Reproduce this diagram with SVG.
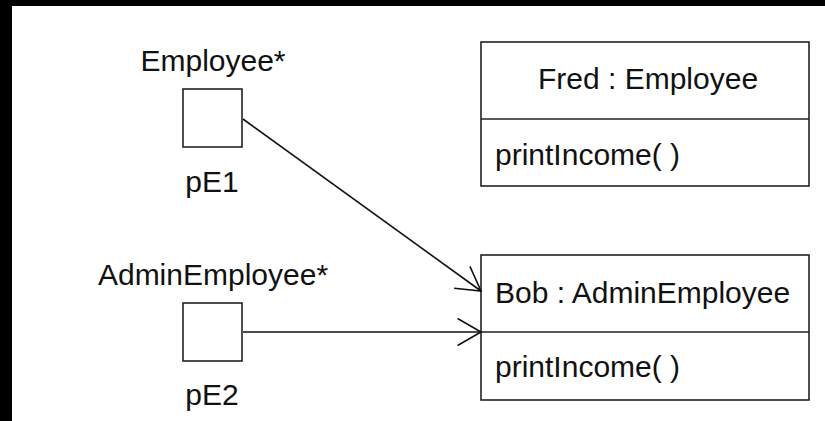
<svg xmlns="http://www.w3.org/2000/svg" width="825" height="421" viewBox="0 0 825 421">
  <style>
    text { font-family: "Liberation Sans", Arial, sans-serif; font-size: 30px; fill: #111; }
    .mid { text-anchor: middle; }
    .box { fill: #fff; stroke: #222; stroke-width: 1.6; }
    .rule { stroke: #222; stroke-width: 1.6; }
    .link { fill: none; stroke: #111; stroke-width: 1.6; }
  </style>
  <defs>
    <marker id="open-arrow" markerUnits="userSpaceOnUse" markerWidth="40" markerHeight="40" refX="28" refY="16" orient="auto">
      <path d="M4.6,2.5 L28,16 L4.6,29.5" fill="none" stroke="#111" stroke-width="1.6"/>
    </marker>
  </defs>

  <!-- frame edges -->
  <rect x="0" y="0" width="825" height="6" fill="#000"/>
  <rect x="0" y="0" width="12" height="421" fill="#000"/>

  <!-- pointer pE1 -->
  <g id="pE1">
    <text class="mid" x="213" y="71">Employee*</text>
    <rect class="box" x="183" y="89" width="59" height="58"/>
    <text class="mid" x="212" y="192">pE1</text>
  </g>

  <!-- pointer pE2 -->
  <g id="pE2">
    <text class="mid" x="213" y="285">AdminEmployee*</text>
    <rect class="box" x="183" y="303" width="59" height="58"/>
    <text class="mid" x="212" y="405">pE2</text>
  </g>

  <!-- object Fred -->
  <g id="fred">
    <rect class="box" x="481" y="42" width="328" height="144"/>
    <line class="rule" x1="481" y1="119" x2="809" y2="119"/>
    <text x="538" y="89">Fred : Employee</text>
    <text x="495" y="165">printIncome( )</text>
  </g>

  <!-- object Bob -->
  <g id="bob">
    <rect class="box" x="481" y="255" width="328" height="145"/>
    <line class="rule" x1="481" y1="332" x2="809" y2="332"/>
    <text x="495" y="303">Bob : AdminEmployee</text>
    <text x="495" y="377">printIncome( )</text>
  </g>

  <!-- pointer links -->
  <g id="connectors">
    <line class="link" x1="243" y1="119" x2="481" y2="291" marker-end="url(#open-arrow)"/>
    <line class="link" x1="243" y1="332" x2="481" y2="332" marker-end="url(#open-arrow)"/>
  </g>
</svg>
